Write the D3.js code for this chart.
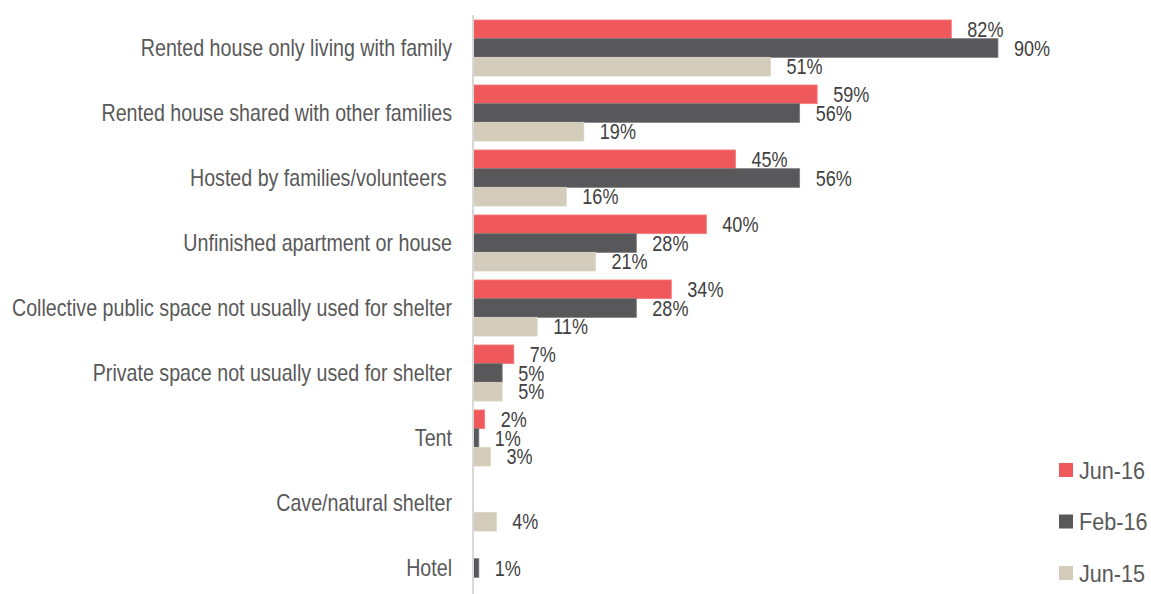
<!DOCTYPE html>
<html>
<head>
<meta charset="utf-8">
<script src="https://cdn.jsdelivr.net/npm/d3@7"></script>
<style>
  html, body { margin: 0; padding: 0; background: #fff; }
  svg { display: block; }
  text { font-family: "Liberation Sans", Arial, sans-serif; white-space: pre; }
</style>
</head>
<body>
<svg id="chart" width="1151" height="594"></svg>
<script>
// Shelter types, top to bottom
const categories = [
  "Rented house only living with family",
  "Rented house shared with other families",
  "Hosted by families/volunteers ",
  "Unfinished apartment or house",
  "Collective public space not usually used for shelter",
  "Private space not usually used for shelter",
  "Tent",
  "Cave/natural shelter",
  "Hotel"
];

// Survey rounds
const seriesNames = ["Jun-16", "Feb-16", "Jun-15"];

// Share of respondents (%) per round; null = not reported
const jun16 = [82, 59, 45, 40, 34, 7, 2, null, null];
const feb16 = [90, 56, 56, 28, 28, 5, 1, null, 1];
const jun15 = [51, 19, 16, 21, 11, 5, 3, 4, null];

const seriesValues = [jun16, feb16, jun15];
const colors = ["#f0595b", "#58585a", "#d3ccba"];
const strokes = ["#f27a7b", "#7a7a7c", "#dcd6c7"];

// Narrow lettering: regular sans squeezed horizontally
const NARROW = 0.855;

const svg = d3.select("#chart");

const x = d3.scaleLinear().domain([0, 100]).range([473, 1056.3]);
const y = d3.scaleBand().domain(categories).range([15.5, 600.5]).paddingInner(0.138).paddingOuter(0.069);
const ySub = d3.scaleBand().domain(seriesNames).range([0, y.bandwidth()]);

// Category labels
svg.append("g").selectAll("text")
  .data(categories)
  .join("text")
  .attr("transform", d => `translate(452,${y(d) + y.bandwidth() / 2}) scale(${NARROW},1)`)
  .attr("dy", "0.358em")
  .attr("text-anchor", "end")
  .attr("font-size", 23)
  .attr("fill", "#595959")
  .text(d => d);

// Bars and value labels
const rows = [];
categories.forEach((c, i) => {
  seriesNames.forEach((s, j) => {
    const v = seriesValues[j][i];
    if (v != null) rows.push({ cat: c, series: s, idx: j, value: v });
  });
});

const gBars = svg.append("g");
gBars.selectAll("rect")
  .data(rows)
  .join("rect")
  .attr("x", x(0))
  .attr("y", d => y(d.cat) + ySub(d.series))
  .attr("width", d => x(d.value) - x(0))
  .attr("height", ySub.bandwidth())
  .attr("fill", d => colors[d.idx])
  .attr("stroke", d => strokes[d.idx])
  .attr("stroke-width", 0.8);

gBars.selectAll("text")
  .data(rows)
  .join("text")
  .attr("transform", d => `translate(${x(d.value) + 16},${y(d.cat) + ySub(d.series) + ySub.bandwidth() / 2}) scale(0.84,1)`)
  .attr("dy", "0.358em")
  .attr("font-size", 21.5)
  .attr("fill", "#404040")
  .text(d => d.value + "%");

// Category axis line
svg.append("line")
  .attr("x1", x(0)).attr("x2", x(0))
  .attr("y1", 15).attr("y2", 594)
  .attr("stroke", "#d9d9d9")
  .attr("stroke-width", 2);

// Legend
const legendY = d3.scalePoint().domain(seriesNames).range([470, 573]);
const legend = svg.append("g").selectAll("g")
  .data(seriesNames)
  .join("g")
  .attr("transform", d => `translate(1059,${legendY(d)})`);
legend.append("rect")
  .attr("x", 0).attr("y", -7)
  .attr("width", 14).attr("height", 14)
  .attr("fill", (d, i) => colors[i]);
legend.append("text")
  .attr("transform", "translate(20,0) scale(0.9,1)")
  .attr("dy", "0.358em")
  .attr("font-size", 24)
  .attr("fill", "#595959")
  .text(d => d);
</script>
</body>
</html>
